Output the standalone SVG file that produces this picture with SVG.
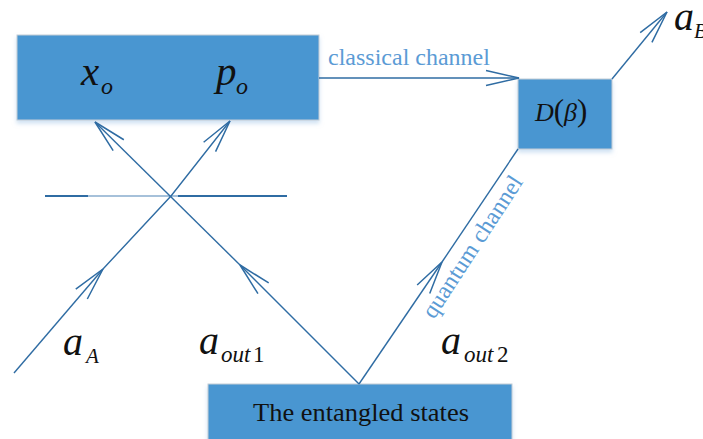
<svg xmlns="http://www.w3.org/2000/svg" width="703" height="439" viewBox="0 0 703 439">
  <style>
    .box { fill: #4a96d1; stroke: #c4cdd6; stroke-width: 1; }
    .wire { fill: none; stroke: #2f6ca3; stroke-width: 1.4; }
    .math { font-family: "Liberation Serif", "Times New Roman", serif; font-style: italic; fill: #111; }
    .up { font-family: "Liberation Serif", "Times New Roman", serif; fill: #111; }
    .chan { font-family: "Liberation Serif", "Times New Roman", serif; fill: #5b9bd5; font-size: 24px; }
  </style>
  <defs>
    <marker id="arr" viewBox="-36 -10 38 20" refX="0" refY="0" markerWidth="38" markerHeight="20" markerUnits="userSpaceOnUse" orient="auto">
      <path d="M-33,-7.6 L0,0 L-33,7.6" fill="none" stroke="#2f6ca3" stroke-width="1.5"/>
    </marker>
    <filter id="soft" x="-10%" y="-10%" width="120%" height="140%">
      <feDropShadow dx="0" dy="3" stdDeviation="2" flood-color="#9fc3e6" flood-opacity="0.5"/>
    </filter>
  </defs>

  <!-- measurement box -->
  <g id="measure">
    <rect class="box" x="17" y="35" width="302" height="85" filter="url(#soft)"/>
    <text class="math" x="81" y="85" font-size="41">x</text>
    <text class="math" x="101" y="94" font-size="24">o</text>
    <text class="math" x="216" y="85" font-size="41">p</text>
    <text class="math" x="236" y="94" font-size="24">o</text>
  </g>

  <!-- displacement box -->
  <g id="displace">
    <rect class="box" x="518" y="79" width="94" height="70" filter="url(#soft)"/>
    <text x="535" y="121" font-size="26"><tspan class="math">D</tspan><tspan class="up" font-size="31">(</tspan><tspan class="math">β</tspan><tspan class="up" font-size="31">)</tspan></text>
  </g>

  <!-- source box -->
  <g id="source">
    <rect class="box" x="208" y="384" width="304" height="60" filter="url(#soft)"/>
    <text class="up" x="361" y="421" font-size="26" text-anchor="middle" textLength="216" lengthAdjust="spacingAndGlyphs">The entangled states</text>
  </g>

  <!-- beam splitter -->
  <g id="splitter">
    <line x1="45" y1="196" x2="88" y2="196" stroke="#2f6ca3" stroke-width="2"/>
    <line x1="88" y1="196" x2="178" y2="196" stroke="#4f84b6" stroke-width="1.2"/>
    <line x1="178" y1="196" x2="287" y2="196" stroke="#2f6ca3" stroke-width="2"/>
  </g>

  <!-- connectors -->
  <g id="connectors">
    <path class="wire" d="M319,78 L519,78" marker-end="url(#arr)"/>
    <path class="wire" d="M612,79 L667,12" marker-end="url(#arr)"/>
    <path class="wire" d="M359,384 L442,262" marker-end="url(#arr)"/>
    <path class="wire" d="M442,262 L518,149"/>
    <path class="wire" d="M359,384 L240,265" marker-end="url(#arr)"/>
    <path class="wire" d="M240,265 L95,122" marker-end="url(#arr)"/>
    <path class="wire" d="M14,373 L103,269" marker-end="url(#arr)"/>
    <path class="wire" d="M103,269 L171,196 L230,121" marker-end="url(#arr)"/>
  </g>

  <!-- labels -->
  <g id="labels">
    <text class="chan" x="328" y="65">classical channel</text>
    <text class="chan" transform="translate(434,320) rotate(-57)">quantum channel</text>
    <text class="math" x="63" y="355" font-size="40">a</text>
    <text class="math" x="86" y="363" font-size="21">A</text>
    <text class="math" x="199" y="354" font-size="40">a</text>
    <text class="math" x="221" y="362" font-size="23">out</text>
    <text class="up" x="253" y="362" font-size="23">1</text>
    <text class="math" x="441" y="354" font-size="40">a</text>
    <text class="math" x="464" y="362" font-size="23">out</text>
    <text class="up" x="497" y="362" font-size="23">2</text>
    <text class="math" x="674" y="30" font-size="40">a</text>
    <text class="math" x="694" y="38" font-size="21">B</text>
  </g>
</svg>
